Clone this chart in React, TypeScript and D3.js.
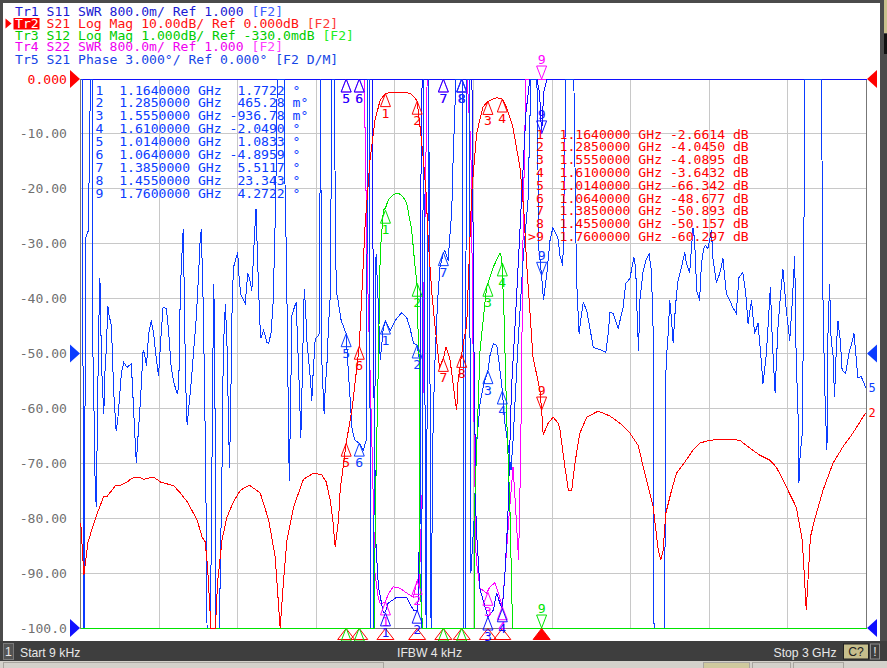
import * as d3 from "d3";

const WIDTH = 887;
const HEIGHT = 668;
const PLOT = { left: 80.5, right: 866.5, top: 79, bottom: 628 };
const MONO = "'DejaVu Sans Mono', monospace";
const SANS = "'Liberation Sans', Arial, sans-serif";
const FS = 13.1;

const RED = "#ff0000";
const GREEN = "#00e400";
const MAGENTA = "#ff00ff";
const BLUE1 = "#1010ff";
const BLUE5 = "#0a3cff";
const GRID = "#c8c8c8";

const START_GHZ = 0.000009;
const STOP_GHZ = 3;
const X_GRID_GHZ = [0.3, 0.6, 0.9, 1.2, 1.5, 1.8, 2.1, 2.4, 2.7];
const Y_TICKS = [0, -10, -20, -30, -40, -50, -60, -70, -80, -90, -100];
const Y_TICK_LABELS = ["0.000", "-10.00", "-20.00", "-30.00", "-40.00", "-50.00", "-60.00", "-70.00", "-80.00", "-90.00", "-100.0"];

// Tr2 S21 log mag (dB)
const S21_DB: [number, number][] = [
  [0.001, -80.9], [0.013, -90.4], [0.028, -84.5], [0.045, -81.8], [0.064, -79.1], [0.089, -76], [0.102, -76],
  [0.133, -74.1], [0.152, -74], [0.178, -73.4], [0.197, -72.7], [0.222, -72.5], [0.241, -72.9], [0.279, -72.5],
  [0.305, -73.4], [0.356, -74.1], [0.381, -75.4], [0.407, -77], [0.445, -80.3], [0.464, -83.4], [0.476, -84.3],
  [0.485, -88.9], [0.498, -101], [0.515, -101], [0.523, -91.8], [0.54, -84], [0.559, -79.8], [0.584, -77],
  [0.61, -74.9], [0.645, -74], [0.686, -75.4], [0.718, -80.3], [0.743, -87], [0.762, -101], [0.775, -91.3],
  [0.788, -84], [0.813, -78], [0.851, -72.9], [0.889, -71.8], [0.921, -72.1], [0.938, -73.4], [0.953, -76.7],
  [0.963, -80.3], [0.972, -85.2], [0.985, -80.3], [0.991, -74.9], [1.014, -66.342], [1.036, -60.3],
  [1.064, -48.677], [1.074, -39], [1.086, -26.9], [1.105, -14.8], [1.124, -7.5], [1.144, -3.8],
  [1.164, -2.6614], [1.18, -2.5], [1.21, -2.45], [1.24, -2.5], [1.258, -2.6], [1.272, -3.2], [1.285, -4.045],
  [1.296, -8.7], [1.309, -14.8], [1.319, -20.8], [1.328, -30], [1.341, -39], [1.353, -45], [1.359, -47.5],
  [1.37, -52.5], [1.385, -50.893], [1.395, -48.8], [1.41, -51], [1.417, -53.6], [1.43, -58.5], [1.436, -60.3],
  [1.441, -55], [1.455, -50.157], [1.463, -47.5], [1.474, -45], [1.493, -20.8], [1.512, -9.9], [1.536, -5.1],
  [1.555, -4.0895], [1.575, -3.6], [1.59, -3.4], [1.61, -3.6432], [1.625, -5.1], [1.65, -8.7], [1.677, -16],
  [1.692, -23.9], [1.702, -33], [1.727, -50.6], [1.753, -56.6], [1.76, -60.297], [1.766, -64.8], [1.785, -62.7],
  [1.804, -61.6], [1.823, -62.7], [1.83, -63.9], [1.849, -70.7], [1.862, -74.9], [1.875, -74.9], [1.887, -70],
  [1.906, -64.5], [1.932, -61.6], [1.976, -60.5], [2.021, -61.4], [2.059, -62.7], [2.097, -64.5], [2.128, -66.7],
  [2.16, -73], [2.186, -78], [2.205, -85.8], [2.215, -87.6], [2.224, -85.8], [2.234, -79.1], [2.256, -74.9],
  [2.275, -71.8], [2.306, -69.8], [2.338, -67.6], [2.364, -66.3], [2.402, -65.8], [2.465, -65.6], [2.516, -65.8],
  [2.554, -67.2], [2.592, -68.5], [2.63, -69.4], [2.656, -70.7], [2.694, -74.3], [2.732, -78], [2.755, -84],
  [2.77, -96.7], [2.776, -91.8], [2.786, -83.4], [2.802, -80.3], [2.834, -74.9], [2.872, -70], [2.91, -67],
  [2.948, -64.5], [2.997, -60.8],
];

// Tr3 S12 log mag (dB), 1 dB/div, ref -0.33 dB at top
const S12_DB: [number, number][] = [
  [0.000009, -12], [1.121, -12], [1.126, -8], [1.137, -5.45], [1.144, -3.5], [1.156, -2.72], [1.164, -2.68],
  [1.175, -2.53], [1.195, -2.43], [1.213, -2.41], [1.23, -2.47], [1.245, -2.59], [1.264, -3.08], [1.277, -3.75],
  [1.285, -4.1], [1.288, -4.85], [1.293, -5.45], [1.296, -9.58], [1.306, -12], [1.502, -12], [1.505, -8],
  [1.525, -5.27], [1.537, -4.72], [1.55, -4.12], [1.562, -3.95], [1.576, -3.75], [1.601, -3.5], [1.608, -3.6],
  [1.616, -4.54], [1.621, -5.45], [1.627, -6.54], [1.639, -8.13], [1.649, -12], [3, -12],
];

// Tr1 S11 SWR
const S11_SWR: [number, number][] = [
  [0.000009, 12], [1.11, 12], [1.114, 9], [1.118, 5], [1.128, 2.2], [1.137, 1.6], [1.156, 1.22], [1.164, 1.24],
  [1.174, 1.36], [1.207, 1.45], [1.245, 1.44], [1.271, 1.26], [1.285, 1.25], [1.289, 1.41], [1.296, 3],
  [1.3, 8], [1.304, 12], [1.49, 12], [1.494, 9], [1.502, 5], [1.51, 2.5], [1.525, 1.56], [1.544, 1.31],
  [1.555, 1.16], [1.576, 1.26], [1.588, 1.51], [1.601, 1.36], [1.61, 1.28], [1.62, 1.8], [1.631, 2.6],
  [1.645, 4.5], [1.66, 5.5], [1.68, 7], [1.7, 8.5], [1.715, 10], [1.735, 12], [1.742, 9.9], [1.752, 8.8],
  [1.76, 8.2], [1.768, 8.8], [1.78, 10], [1.79, 12], [3, 12],
];

// Tr4 S22 SWR
const S22_SWR: [number, number][] = [
  [0.000009, 12], [1.078, 12], [1.083, 9], [1.094, 6.36], [1.113, 3.59], [1.124, 1.8], [1.136, 1.45],
  [1.144, 1.35], [1.164, 1.38], [1.175, 1.5], [1.194, 1.6], [1.22, 1.58], [1.245, 1.51], [1.271, 1.45],
  [1.285, 1.7], [1.293, 1.6], [1.304, 3], [1.311, 6], [1.323, 12], [1.476, 12], [1.49, 8], [1.5, 4.5],
  [1.51, 2], [1.525, 1.58], [1.55, 1.51], [1.563, 1.6], [1.582, 1.66], [1.595, 1.51], [1.61, 1.31],
  [1.62, 1.8], [1.635, 2.6], [1.651, 3.35], [1.66, 2.8], [1.672, 1.99], [1.68, 3.5], [1.69, 7], [1.7, 12],
  [3, 12],
];

// Tr5 S21 phase (deg), data/memory
const S21_PHASE: [number, number][] = [
  [0.002, 16], [0.008, 16], [0.011, -16], [0.015, -16], [0.019, 6.28], [0.03, 6.72], [0.038, 16], [0.045, 16],
  [0.046, 1.09], [0.051, -2.57], [0.055, -6.56], [0.06, -8.41], [0.064, -4.37], [0.067, -1.09], [0.071, 2.35],
  [0.074, 4.1], [0.076, 3.06], [0.08, -0.55], [0.085, -2.19], [0.089, -3.28], [0.093, -1.09], [0.099, 0.33],
  [0.104, 2.62], [0.109, 2.08], [0.118, 1.53], [0.127, -2.19], [0.136, -4.21], [0.142, -3.66], [0.15, -2.19],
  [0.156, -1.09], [0.165, -0.49], [0.178, -0.76], [0.194, -0.55], [0.201, -2.57], [0.21, -5.19], [0.213, -5.96],
  [0.221, -4.21], [0.229, -2.57], [0.239, 0.16], [0.244, 0], [0.252, -0.66], [0.26, 1.09], [0.27, 1.8],
  [0.279, 1.09], [0.29, -0.38], [0.298, -1.2], [0.308, 1.09], [0.315, 2.51], [0.328, 2.46], [0.337, 1.09],
  [0.346, -0.76], [0.356, -1.58], [0.369, -2.19], [0.375, -1.86], [0.381, 3.44], [0.388, 5.63], [0.392, 6.78],
  [0.396, 3.44], [0.401, -1.48], [0.407, -3.93], [0.413, -3.01], [0.422, -1.64], [0.432, 0.16], [0.442, 1.97],
  [0.451, 4.43], [0.457, 6.28], [0.461, 6.78], [0.468, 2.9], [0.474, -2.19], [0.48, -9.29], [0.483, -16],
  [0.496, -16], [0.508, 3.82], [0.512, 1.64], [0.517, -16], [0.53, -16], [0.54, -6.39], [0.545, 0.16],
  [0.553, 2.73], [0.559, 0.55], [0.567, -5.14], [0.569, -6.23], [0.574, -2.19], [0.579, 2.9], [0.584, 4.7],
  [0.591, 5.08], [0.6, 5.52], [0.606, 3.99], [0.613, 3.17], [0.629, 2.73], [0.638, 4.37], [0.645, 4.1],
  [0.654, 3.44], [0.663, 6.17], [0.67, 7.92], [0.676, 5.08], [0.684, 1.8], [0.689, 0.87], [0.699, 1.26],
  [0.712, 0.6], [0.718, 0.55], [0.727, 1.09], [0.735, 2.73], [0.74, 5.46], [0.745, 8.36], [0.751, 16],
  [0.778, 16], [0.781, 8.36], [0.785, 6.01], [0.79, 0.87], [0.794, -4.37], [0.797, -6.94], [0.801, -3.55],
  [0.807, 2.08], [0.816, 2.51], [0.823, 2.79], [0.828, 0.87], [0.835, -1.86], [0.841, -4.59], [0.846, -1.58],
  [0.854, 3.55], [0.859, 2.51], [0.864, 0.71], [0.87, -0.22], [0.877, -1.31], [0.883, -2.57], [0.887, -1.31],
  [0.896, 0.82], [0.902, 0.87], [0.912, 1.09], [0.916, 16], [0.921, -0.38], [0.925, -1.75], [0.93, -3.28],
  [0.935, -1.58], [0.94, -0.82], [0.947, 1.64], [0.953, 3.06], [0.96, 16], [0.968, 16], [0.976, 3.44],
  [0.983, 2.9], [0.995, 1.8], [1.014, 1.0833], [1.022, -0.93], [1.037, -4.21], [1.048, -4.75], [1.064, -4.8959],
  [1.079, -5.3], [1.09, -4.75], [1.097, 16], [1.102, 16], [1.107, -16], [1.117, -16], [1.128, 5.46],
  [1.136, 2.9], [1.144, -0.38], [1.156, 1.42], [1.164, 1.7722], [1.182, 1.26], [1.201, 1.8], [1.226, 2.24],
  [1.245, 1.97], [1.258, 1.37], [1.271, 0.55], [1.285, 0.465], [1.291, -0.11], [1.296, -0.38], [1.302, -16],
  [1.309, 16], [1.319, -16], [1.329, 16], [1.338, -16], [1.346, -3.66], [1.353, -0.38], [1.363, 2.9],
  [1.372, 4.7], [1.385, 5.5117], [1.391, 5.63], [1.403, 5.08], [1.417, 7.81], [1.422, 10.5], [1.43, 13.8],
  [1.433, 16], [1.455, 23.3], [1.458, 16], [1.462, -16], [1.468, -16], [1.473, 16], [1.483, 16], [1.49, -12],
  [1.502, -9.12], [1.513, -4.75], [1.525, -2.73], [1.538, -1.75], [1.555, -0.937], [1.563, -0.11],
  [1.576, 0.55], [1.589, 0.44], [1.599, -0.66], [1.61, -2.049], [1.62, -3.82], [1.633, -5.14], [1.643, -6.39],
  [1.651, -4.75], [1.67, 0.55], [1.689, 5.08], [1.708, 8.36], [1.719, 16], [1.742, 16], [1.75, 5.63],
  [1.76, 4.2722], [1.767, 2.9], [1.78, 4.37], [1.792, 6.17], [1.803, 6.88], [1.822, 6.34], [1.83, 5.35],
  [1.841, 4.81], [1.853, 16], [1.883, 16], [1.893, 4.15], [1.903, 1.09], [1.909, 1.8], [1.919, 2.79],
  [1.932, 2.35], [1.944, 1.42], [1.957, 0.33], [1.982, 0.22], [2.005, 0.05], [2.014, 1.09], [2.021, 2.24],
  [2.033, 2.19], [2.052, 1.37], [2.071, 2.51], [2.081, 3.82], [2.097, 4.1], [2.112, 5.25], [2.119, 4.7],
  [2.124, 2.35], [2.13, 0.16], [2.135, 2.9], [2.147, 4.43], [2.158, 5.08], [2.17, 5.46], [2.179, 4.54],
  [2.186, 1.09], [2.189, -16], [2.23, -16], [2.233, -1.64], [2.236, -0.38], [2.243, 1.09], [2.249, 2.9],
  [2.256, 1.8], [2.262, 0.55], [2.268, 1.97], [2.275, 3.28], [2.281, 3.99], [2.294, 4.7], [2.306, 5.52],
  [2.313, 4.92], [2.325, 4.43], [2.338, 6.88], [2.344, 6.17], [2.352, 3.44], [2.363, 2.9], [2.37, 4.92],
  [2.379, 5.74], [2.385, 5.9], [2.395, 5.74], [2.408, 6.72], [2.414, 5.19], [2.427, 3.88], [2.44, 4.37],
  [2.452, 5.19], [2.465, 3.28], [2.478, 2.9], [2.49, 2.51], [2.503, 2.19], [2.513, 4.15], [2.528, 4.43],
  [2.539, 3.28], [2.548, 1.64], [2.561, 2.9], [2.573, 1.09], [2.586, 1.64], [2.595, 0.16], [2.605, -1.64],
  [2.618, 0], [2.633, 3.61], [2.641, 0.55], [2.651, -2.13], [2.662, 1.42], [2.671, 3.06], [2.681, 4.64],
  [2.694, 2.35], [2.707, 0.71], [2.717, 2.9], [2.726, 5.35], [2.732, -0.76], [2.738, -2.57], [2.742, -7.1],
  [2.747, -5.46], [2.755, -4.37], [2.76, 2.9], [2.764, 16], [2.828, 16], [2.834, 2.9], [2.84, -1.64],
  [2.846, -4.21], [2.849, -5.3], [2.853, 1.09], [2.859, 3.82], [2.865, 0.71], [2.872, 0], [2.878, -2.4],
  [2.885, 0.33], [2.891, 1.8], [2.9, 0.71], [2.907, -0.93], [2.92, -1.09], [2.933, 0], [2.946, 0.71],
  [2.952, 1.09], [2.958, 0.16], [2.967, -1.31], [2.98, -1.26], [2.997, -1.86],
];

// markers 1..9
const MARKER_GHZ = [1.164, 1.285, 1.555, 1.61, 1.014, 1.064, 1.385, 1.455, 1.76];
const MARKER_FREQ_LABELS = ["1.1640000", "1.2850000", "1.5550000", "1.6100000", "1.0140000", "1.0640000", "1.3850000", "1.4550000", "1.7600000"];
const S21_MARKER_DB = [-2.6614, -4.045, -4.0895, -3.6432, -66.342, -48.677, -50.893, -50.157, -60.297];
const S21_READOUT = ["-2.6614", "-4.0450", "-4.0895", "-3.6432", "-66.342", "-48.677", "-50.893", "-50.157", "-60.297"];
const PHASE_MARKER_DEG = [1.7722, 0.46528, -0.93678, -2.049, 1.0833, -4.8959, 5.5117, 23.343, 4.2722];
const PHASE_READOUT = ["1.7722", "465.28", "936.78", "2.0490", "1.0833", "4.8959", "5.5117", "23.343", "4.2722"];
const PHASE_UNITS = ["°", "m°", "m°", "°", "°", "°", "°", "°", "°"];
const S11_MARKER_SWR = [1.22, 1.26, 1.16, 1.28, 12, 12, 12, 12, 8.2];
const S22_MARKER_SWR = [1.38, 1.68, 1.52, 1.31, 12, 12, 12, 12, 12];
const S12_MARKER_DB = [-2.72, -4.05, -4.05, -3.68, -12, -12, -12, -12, -12];

const HEADER_LINES = [
  { parts: [["Tr1 S11 SWR 800.0m/ Ref 1.000 ", "#1a1ad2"], ["[F2]", "#3a5cff"]], y: 16 },
  { parts: [["Tr2", "#ffffff"], [" S21 Log Mag 10.00dB/ Ref 0.000dB ", "#ff1010"], ["[F2]", "#ff3838"]], y: 28 },
  { parts: [["Tr3 S12 Log Mag 1.000dB/ Ref -330.0mdB ", "#00cc00"], ["[F2]", "#22ee22"]], y: 39.5 },
  { parts: [["Tr4 S22 SWR 800.0m/ Ref 1.000 ", "#f000f0"], ["[F2]", "#ff40ff"]], y: 51 },
  { parts: [["Tr5 S21 Phase 3.000°/ Ref 0.000° [F2 D/M]", "#1646e6"]], y: 63.5 },
];

const x = d3.scaleLinear().domain([START_GHZ, STOP_GHZ]).range([PLOT.left, PLOT.right]);
const yS21 = d3.scaleLinear().domain([-100, 0]).range([PLOT.bottom, PLOT.top]).clamp(true);
const yS12 = d3.scaleLinear().domain([-10.33, -0.33]).range([PLOT.bottom, PLOT.top]).clamp(true);
const ySWR = d3.scaleLinear().domain([1, 9]).range([PLOT.bottom, PLOT.top]).clamp(true);
const yPhase = d3.scaleLinear().domain([-15, 15]).range([PLOT.bottom, PLOT.top]).clamp(true);

const TRACES = [
  { id: 4, data: S22_SWR, y: ySWR, color: MAGENTA, markers: S22_MARKER_SWR },
  { id: 1, data: S11_SWR, y: ySWR, color: BLUE1, markers: S11_MARKER_SWR },
  { id: 5, data: S21_PHASE, y: yPhase, color: BLUE5, markers: PHASE_MARKER_DEG },
  { id: 3, data: S12_DB, y: yS12, color: GREEN, markers: S12_MARKER_DB },
  { id: 2, data: S21_DB, y: yS21, color: RED, markers: S21_MARKER_DB },
];

function Marker({ cx, cy, color, label, down }: { cx: number; cy: number; color: string; label: string; down: boolean }) {
  const h = 13;
  const w = 5;
  const base = down ? cy - h : cy + h;
  const ly = down ? cy - 15 : cy + 24;
  return (
    <g>
      <path d={`M${cx},${cy}L${cx - w},${base}L${cx + w},${base}Z`} fill="none" stroke={color} strokeWidth={1} />
      {ly < PLOT.bottom + 14 && (
        <text x={cx} y={ly} textAnchor="middle" fill={color} fontFamily={MONO} fontSize={FS}>
          {label}
        </text>
      )}
    </g>
  );
}

export default function App() {
  return (
    <svg width={WIDTH} height={HEIGHT} viewBox={`0 0 ${WIDTH} ${HEIGHT}`} style={{ display: "block" }}>
      <style>{`body{margin:0} text{white-space:pre}`}</style>
      <rect x={0} y={0} width={WIDTH} height={HEIGHT} fill="#4b4b4b" />
      <rect x={884} y={0} width={3} height={33} fill="#c8c08c" />
      <rect x={884} y={34} width={3} height={20} fill="#111" />
      <rect x={3} y={3} width={877} height={638} fill="#ffffff" />

      {/* header */}
      <rect x={13.5} y={18} width={26} height={11.5} fill={RED} />
      <path d="M5.5,18.5L11.5,23.5L5.5,28.5Z" fill={RED} />
      {HEADER_LINES.map((line, i) => (
        <text key={i} x={15} y={line.y} fontFamily={MONO} fontSize={FS}>
          {line.parts.map(([t, c], j) => (
            <tspan key={j} fill={c}>
              {t}
            </tspan>
          ))}
        </text>
      ))}

      {/* grid */}
      {X_GRID_GHZ.map((g) => (
        <line key={g} x1={x(g)} x2={x(g)} y1={PLOT.top} y2={PLOT.bottom} stroke={GRID} shapeRendering="crispEdges" />
      ))}
      {Y_TICKS.slice(1, -1).map((t) => (
        <line key={t} x1={PLOT.left} x2={PLOT.right} y1={yS21(t)} y2={yS21(t)} stroke={GRID} shapeRendering="crispEdges" />
      ))}
      <rect x={PLOT.left} y={PLOT.top} width={PLOT.right - PLOT.left} height={PLOT.bottom - PLOT.top} fill="none" stroke="#777" shapeRendering="crispEdges" />
      <line x1={PLOT.left} x2={PLOT.right} y1={PLOT.top} y2={PLOT.top} stroke={BLUE1} shapeRendering="crispEdges" />

      {Y_TICKS.map((t, i) => (
        <text key={t} x={67} y={yS21(t) + 4.5} textAnchor="end" fontFamily={MONO} fontSize={FS} fill={i === 0 ? RED : "#707070"}>
          {Y_TICK_LABELS[i]}
        </text>
      ))}

      {/* traces */}
      {TRACES.map((tr) => {
        const line = d3
          .line<[number, number]>()
          .x((d) => x(d[0]))
          .y((d) => tr.y(d[1]));
        return <path key={tr.id} d={line(tr.data) ?? ""} fill="none" stroke={tr.color} strokeWidth={1} shapeRendering="crispEdges" />;
      })}

      {/* stimulus marker indicators */}
      {MARKER_GHZ.map((g, i) => (
        <path
          key={`ind${i}`}
          d={`M${x(g)},${PLOT.bottom + 0.5}L${x(g) - 8.5},${PLOT.bottom + 11.5}L${x(g) + 8.5},${PLOT.bottom + 11.5}Z`}
          fill={i === 8 ? RED : "none"}
          stroke={RED}
        />
      ))}

      {/* trace markers */}
      {TRACES.map((tr) =>
        tr.markers.map((v, i) => (
          <Marker key={`${tr.id}-${i}`} cx={x(MARKER_GHZ[i])} cy={tr.y(v)} color={tr.color} label={`${i + 1}`} down={i === 8} />
        ))
      )}

      {/* marker readouts */}
      {MARKER_GHZ.map((_, i) => (
        <text key={`pr${i}`} x={95.5} y={94.5 + i * 12.9} fontFamily={MONO} fontSize={FS} fill={BLUE5}>
          {`${i + 1}  ${MARKER_FREQ_LABELS[i]} GHz ${PHASE_MARKER_DEG[i] < 0 ? "-" : " "}${PHASE_READOUT[i]} ${PHASE_UNITS[i]}`}
        </text>
      ))}
      {MARKER_GHZ.map((_, i) => (
        <text key={`mr${i}`} x={528} y={138.5 + i * 12.8} fontFamily={MONO} fontSize={FS} fill={RED}>
          {`${i === 8 ? ">" : " "}${i + 1}  ${MARKER_FREQ_LABELS[i]} GHz ${S21_READOUT[i]} dB`}
        </text>
      ))}

      {/* trace end labels */}
      {TRACES.filter((tr) => {
        const yy = tr.y(tr.data[tr.data.length - 1][1]);
        return yy > PLOT.top + 10 && yy < PLOT.bottom - 10;
      }).map((tr) => (
        <text key={`end${tr.id}`} x={868.5} y={tr.y(tr.data[tr.data.length - 1][1]) + 4} fontFamily={MONO} fontSize={12} fill={tr.color}>
          {tr.id}
        </text>
      ))}

      {/* reference position arrows */}
      {[
        [yS21(0), RED],
        [yPhase(0), BLUE5],
        [ySWR(1), BLUE1],
      ].map(([yy, c], i) => (
        <g key={`ref${i}`}>
          <path d={`M${PLOT.left - 0.5},${yy}L${PLOT.left - 10.5},${(yy as number) - 9}L${PLOT.left - 10.5},${(yy as number) + 9}Z`} fill={c as string} />
          <path d={`M${PLOT.right + 0.5},${yy}L${PLOT.right + 10.5},${(yy as number) - 9}L${PLOT.right + 10.5},${(yy as number) + 9}Z`} fill={c as string} />
        </g>
      ))}

      {/* status bar */}
      <rect x={0} y={641} width={WIDTH} height={20} fill="#3e3e3e" />
      <rect x={3.5} y={643.5} width={10} height={16} fill="#545454" stroke="#7a7a7a" />
      <text x={8.5} y={656} textAnchor="middle" fontFamily={SANS} fontSize={12.2} fill="#e8e8e8">1</text>
      <text x={20} y={656.5} fontFamily={SANS} fontSize={12.2} fill="#e8e8e8">Start 9 kHz</text>
      <text x={397} y={656.5} fontFamily={SANS} fontSize={12.2} fill="#e8e8e8">IFBW 4 kHz</text>
      <text x={836.5} y={656.5} textAnchor="end" fontFamily={SANS} fontSize={12.2} fill="#e8e8e8">Stop 3 GHz</text>
      <rect x={843.5} y={644} width={25} height={15} fill="#c6be8c" stroke="#222" />
      <text x={856} y={656} textAnchor="middle" fontFamily={SANS} fontSize={12.2} fill="#202020">C?</text>
      <rect x={870.5} y={644} width={9} height={15} fill="#3e3e3e" stroke="#8a8a8a" />
      <text x={875} y={656} textAnchor="middle" fontFamily={SANS} fontSize={12.2} fill="#e8e8e8">!</text>
      <rect x={0} y={661} width={WIDTH} height={7} fill="#d4d1cb" />
      <rect x={3.5} y={662.5} width={380} height={6} fill="none" stroke="#a8a59f" />
      <rect x={703.5} y={662.5} width={46} height={6} fill="#cfc99e" stroke="#a8a59f" />
      <rect x={752.5} y={662.5} width={38} height={6} fill="none" stroke="#a8a59f" />
      <rect x={793.5} y={662.5} width={50} height={6} fill="none" stroke="#a8a59f" />
    </svg>
  );
}
